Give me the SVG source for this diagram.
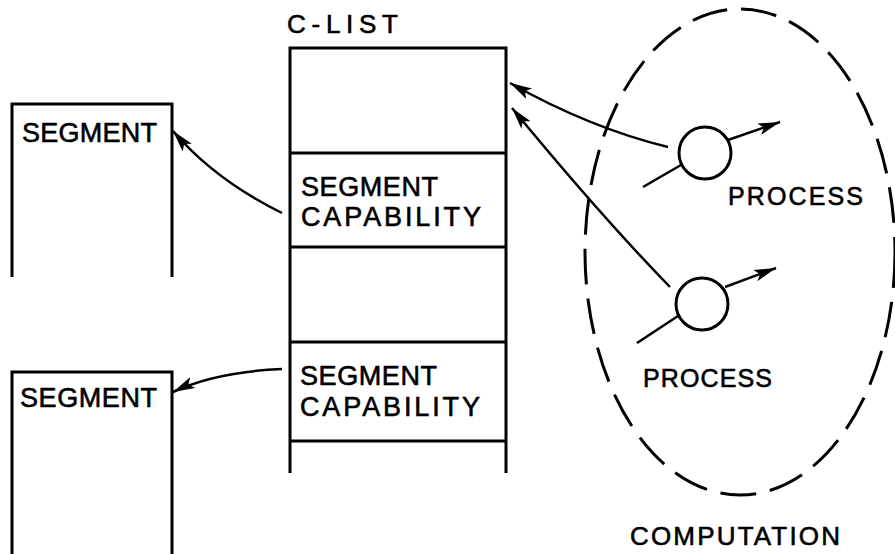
<svg xmlns="http://www.w3.org/2000/svg" width="895" height="554" viewBox="0 0 895 554">
<style>
.ln{fill:none;stroke:#000;stroke-width:3;stroke-linecap:butt}
.ar{fill:none;stroke:#000;stroke-width:2.5}
.t{font-family:"Liberation Sans",Arial,sans-serif;fill:#000;stroke:#000;stroke-width:0.6}
</style>
<defs>
<marker id="ah" markerUnits="userSpaceOnUse" markerWidth="26" markerHeight="14" refX="22" refY="6" orient="auto">
<path d="M0,0 L22,6 L0,12 L5,6 Z" fill="#000"/>
</marker>
</defs>
<rect width="895" height="554" fill="#fff"/>
<g id="seg1">
<path class="ln" d="M12,277 V104 H172 V277"/>
<text class="t" x="22" y="142" font-size="27" textLength="135" lengthAdjust="spacing">SEGMENT</text>
</g>
<g id="seg2">
<path class="ln" d="M12,554 V372 H172 V554"/>
<text class="t" x="20" y="407" font-size="27" textLength="137" lengthAdjust="spacing">SEGMENT</text>
</g>
<g id="clist">
<text class="t" x="287" y="33" font-size="26" textLength="111" lengthAdjust="spacing">C-LIST</text>
<path class="ln" d="M290,473 V48 H506 V473 M290,153 H506 M290,247 H506 M290,342 H506 M290,441 H506"/>
</g>
<g id="cap1">
<text class="t" x="301" y="196" font-size="27" textLength="137" lengthAdjust="spacing">SEGMENT</text>
<text class="t" x="301" y="226" font-size="27" textLength="180" lengthAdjust="spacing">CAPABILITY</text>
</g>
<g id="cap2">
<text class="t" x="300" y="385" font-size="27" textLength="137" lengthAdjust="spacing">SEGMENT</text>
<text class="t" x="300" y="416" font-size="27" textLength="180" lengthAdjust="spacing">CAPABILITY</text>
</g>
<g id="computation">
<ellipse cx="740" cy="252" rx="155" ry="243" fill="none" stroke="#000" stroke-width="3" stroke-dasharray="36 14"/>
<text class="t" x="630" y="545" font-size="26" textLength="210" lengthAdjust="spacing">COMPUTATION</text>
</g>
<g id="process1">
<circle cx="705" cy="153" r="26" fill="none" stroke="#000" stroke-width="3"/>
<text class="t" x="728" y="205" font-size="25" textLength="135" lengthAdjust="spacing">PROCESS</text>
</g>
<g id="process2">
<circle cx="702" cy="304" r="26" fill="none" stroke="#000" stroke-width="3"/>
<text class="t" x="643" y="387" font-size="25" textLength="129" lengthAdjust="spacing">PROCESS</text>
</g>
<g id="connectors">
<path class="ar" d="M282,213 Q215,180 173,131" marker-end="url(#ah)"/>
<path class="ar" d="M282,369 Q215,372 173,392" marker-end="url(#ah)"/>
<path class="ar" d="M668,147 Q590,128 510,83" marker-end="url(#ah)"/>
<path class="ar" d="M670,287 Q600,215 512,108" marker-end="url(#ah)"/>
<path class="ar" d="M643,187 L681,165"/>
<path class="ar" d="M728,140 L780,122" marker-end="url(#ah)"/>
<path class="ar" d="M637,343 L678,316"/>
<path class="ar" d="M725,287 L776,268" marker-end="url(#ah)"/>
</g>
</svg>
